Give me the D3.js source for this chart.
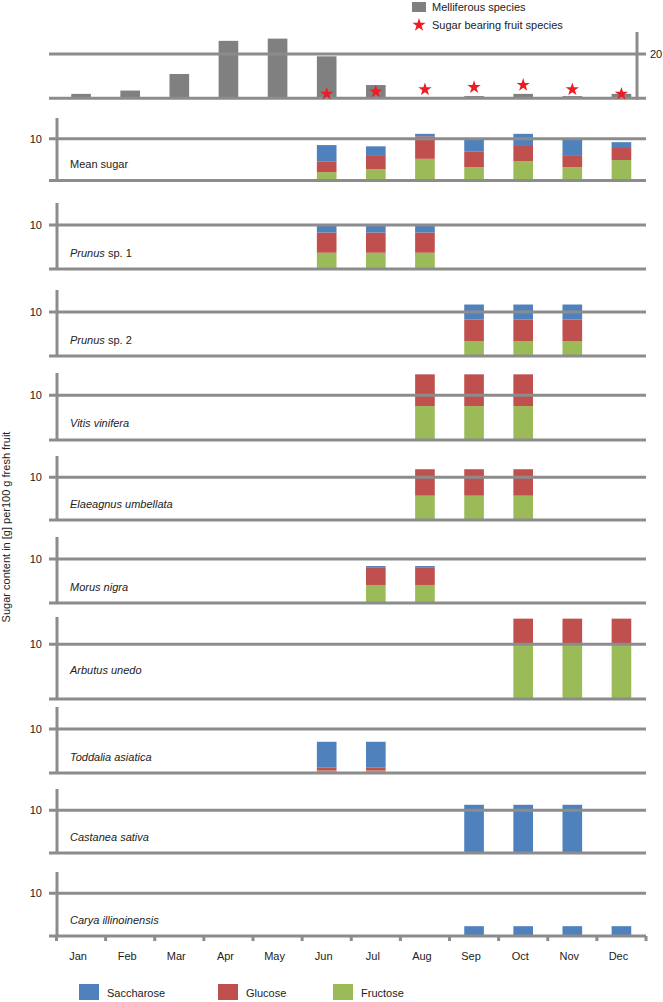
<!DOCTYPE html>
<html>
<head>
<meta charset="utf-8">
<script src="https://cdn.jsdelivr.net/npm/d3@7"></script>
<style>
  html, body { margin: 0; padding: 0; background: #fff; }
  svg { display: block; font-family: "Liberation Sans", Arial, sans-serif; }
</style>
</head>
<body>
<svg id="chart" width="663" height="1002"></svg>
<script>
// ---------- DATA ----------
const months = ["Jan","Feb","Mar","Apr","May","Jun","Jul","Aug","Sep","Oct","Nov","Dec"];
const melliferous = [2, 3.5, 11, 26, 27, 19, 6, 0, 1, 2, 1, 2];
const fruitSpeciesCount = [null, null, null, null, null, 2, 3, 4, 5, 6, 4, 2];
const topTickValue = 20;
const panelTickValue = 10;
const sugarTypes = ["Fructose", "Glucose", "Saccharose"];
const legendOrder = ["Saccharose", "Glucose", "Fructose"];
const panelNames = ["Mean sugar", "Prunus sp. 1", "Prunus sp. 2", "Vitis vinifera", "Elaeagnus umbellata",
  "Morus nigra", "Arbutus unedo", "Toddalia asiatica", "Castanea sativa", "Carya illinoinensis"];
const _ = null;
//                 Jan Feb Mar Apr May Jun   Jul   Aug   Sep   Oct   Nov   Dec
const fructose = [
  [_, _, _, _, _, 2.0, 2.7, 5.2, 3.2, 4.6, 3.2, 4.9],
  [_, _, _, _, _, 3.7, 3.7, 3.7, _, _, _, _],
  [_, _, _, _, _, _, _, _, 3.4, 3.4, 3.4, _],
  [_, _, _, _, _, _, _, 7.6, 7.6, 7.6, _, _],
  [_, _, _, _, _, _, _, 5.7, 5.7, 5.7, _, _],
  [_, _, _, _, _, _, 4.1, 4.1, _, _, _, _],
  [_, _, _, _, _, _, _, _, _, 10.1, 10.1, 10.1],
  [_, _, _, _, _, 0.55, 0.55, _, _, _, _, _],
  [_, _, _, _, _, _, _, _, 0, 0, 0, _],
  [_, _, _, _, _, _, _, _, 0, 0, 0, 0]
];
const glucose = [
  [_, _, _, _, _, 2.5, 3.2, 5.4, 3.7, 3.9, 2.7, 2.9],
  [_, _, _, _, _, 4.6, 4.6, 4.6, _, _, _, _],
  [_, _, _, _, _, _, _, _, 4.9, 4.9, 4.9, _],
  [_, _, _, _, _, _, _, 7.1, 7.1, 7.1, _, _],
  [_, _, _, _, _, _, _, 6.2, 6.2, 6.2, _, _],
  [_, _, _, _, _, _, 3.9, 3.9, _, _, _, _],
  [_, _, _, _, _, _, _, _, _, 4.6, 4.6, 4.6],
  [_, _, _, _, _, 0.65, 0.65, _, _, _, _, _],
  [_, _, _, _, _, _, _, _, 0, 0, 0, _],
  [_, _, _, _, _, _, _, _, 0, 0, 0, 0]
];
const saccharose = [
  [_, _, _, _, _, 4.0, 2.3, 0.6, 3.3, 2.7, 4.3, 1.4],
  [_, _, _, _, _, 1.7, 1.7, 1.7, _, _, _, _],
  [_, _, _, _, _, _, _, _, 3.4, 3.4, 3.4, _],
  [_, _, _, _, _, _, _, 0, 0, 0, _, _],
  [_, _, _, _, _, _, _, 0, 0, 0, _, _],
  [_, _, _, _, _, _, 0.4, 0.4, _, _, _, _],
  [_, _, _, _, _, _, _, _, _, 0, 0, 0],
  [_, _, _, _, _, 5.9, 5.9, _, _, _, _, _],
  [_, _, _, _, _, _, _, _, 11.3, 11.3, 11.3, _],
  [_, _, _, _, _, _, _, _, 2.3, 2.3, 2.3, 2.3]
];

// ---------- LAYOUT ----------
const colors = { Saccharose: "#4f81bd", Glucose: "#c0504d", Fructose: "#9bbb59" };
const lineColor = "#8c8c8c";
const lineW = 3;
const panelBox = [ // [axisTop, baseline]
  [118, 180.5], [203, 269], [290, 356], [373, 440], [456, 520],
  [537, 603], [617, 699], [707, 773], [789, 853], [872, 936]
];
const labelOffset = [16, 16, 16, 17, 16, 16, 29, 16, 16, 16];
const lineX0 = 49, lineX1 = 646, axisX = 57;

const svg = d3.select("#chart");
const x = d3.scaleBand().domain(months).range([56.5, 646]).paddingInner(0).paddingOuter(0);
const barW = x.bandwidth() * 0.4;
const cx = m => x(m) + x.bandwidth() / 2;

// ---------- TOP PANEL ----------
const yTop = d3.scaleLinear().domain([0, 30]).range([98.3, 32]);
const topG = svg.append("g");
topG.selectAll("rect.mel").data(months).join("rect")
  .attr("class", "mel")
  .attr("x", m => cx(m) - barW / 2)
  .attr("width", barW)
  .attr("y", (m, i) => yTop(melliferous[i]))
  .attr("height", (m, i) => yTop(0) - yTop(melliferous[i]))
  .attr("fill", "#808080");
[0, topTickValue].forEach(v => {
  topG.append("line").attr("x1", lineX0).attr("x2", lineX1)
    .attr("y1", yTop(v)).attr("y2", yTop(v))
    .attr("stroke", lineColor).attr("stroke-width", lineW);
});
topG.append("line").attr("x1", 637).attr("x2", 637)
  .attr("y1", yTop(30)).attr("y2", yTop(0) + 1.5)
  .attr("stroke", lineColor).attr("stroke-width", lineW);
topG.append("text").attr("x", 650).attr("y", yTop(topTickValue)).attr("dy", "0.35em")
  .attr("font-size", 11).attr("fill", "#222").text(topTickValue);
const star = d3.symbol().type(d3.symbolStar).size(55);
topG.selectAll("path.star").data(months.map((m, i) => ({ m, v: fruitSpeciesCount[i] })).filter(d => d.v != null))
  .join("path").attr("class", "star")
  .attr("d", star)
  .attr("transform", d => `translate(${cx(d.m)},${yTop(d.v)})`)
  .attr("fill", "#ed1c24");

// top legend
const tl = svg.append("g");
tl.append("rect").attr("x", 412).attr("y", 2).attr("width", 14).attr("height", 10).attr("fill", "#808080");
tl.append("text").attr("x", 432).attr("y", 7.5).attr("dy", "0.35em").attr("font-size", 11).attr("fill", "#222").text("Melliferous species");
tl.append("path").attr("d", star).attr("transform", "translate(419,25)").attr("fill", "#ed1c24");
tl.append("text").attr("x", 432).attr("y", 25).attr("dy", "0.35em").attr("font-size", 11).attr("fill", "#222").text("Sugar bearing fruit species");

// ---------- SPECIES PANELS ----------
panelNames.forEach((name, p) => {
  const [t, b] = panelBox[p];
  const y = d3.scaleLinear().domain([0, 15]).range([b, t]);
  const g = svg.append("g");
  const rows = months.map((m, i) => ({
    month: m, Fructose: fructose[p][i], Glucose: glucose[p][i], Saccharose: saccharose[p][i]
  })).filter(d => d.Fructose != null);
  const stacked = d3.stack().keys(sugarTypes).value((d, k) => d[k] || 0)(rows);
  g.selectAll("g.layer").data(stacked).join("g").attr("class", "layer")
    .attr("fill", d => colors[d.key])
    .selectAll("rect").data(d => d).join("rect")
    .attr("x", d => cx(d.data.month) - barW / 2)
    .attr("width", barW)
    .attr("y", d => y(d[1]))
    .attr("height", d => Math.max(0, y(d[0]) - y(d[1])));
  // grid / baseline
  [0, panelTickValue].forEach(v => {
    g.append("line").attr("x1", lineX0).attr("x2", lineX1)
      .attr("y1", y(v)).attr("y2", y(v))
      .attr("stroke", lineColor).attr("stroke-width", lineW);
  });
  g.append("line").attr("x1", axisX).attr("x2", axisX)
    .attr("y1", t).attr("y2", b)
    .attr("stroke", lineColor).attr("stroke-width", lineW);
  g.append("text").attr("x", 42).attr("y", y(panelTickValue)).attr("dy", "0.35em")
    .attr("text-anchor", "end").attr("font-size", 11).attr("fill", "#222").text(panelTickValue);
  const lab = g.append("text").attr("x", 70).attr("y", b - labelOffset[p]).attr("dy", "0.35em")
    .attr("font-size", 11).attr("fill", "#222");
  const m = name.match(/^(\S+)( sp\. \d)$/);
  if (name === "Mean sugar") {
    lab.text(name);
  } else if (m) {
    lab.append("tspan").attr("font-style", "italic").text(m[1]);
    lab.append("tspan").text(m[2]);
  } else {
    lab.attr("font-style", "italic").text(name);
  }
});

// ---------- X AXIS ----------
const lastBase = panelBox[panelBox.length - 1][1];
const ticks = months.map(m => x(m)).concat([x(months[11]) + x.bandwidth()]);
svg.append("g").selectAll("line").data(ticks).join("line")
  .attr("x1", d => d).attr("x2", d => d)
  .attr("y1", lastBase).attr("y2", lastBase + 5)
  .attr("stroke", lineColor).attr("stroke-width", lineW);
svg.append("g").selectAll("text").data(months).join("text")
  .attr("x", d => cx(d) - 3).attr("y", 956).attr("dy", "0.35em")
  .attr("text-anchor", "middle").attr("font-size", 11).attr("fill", "#222")
  .text(d => d);

// y title
svg.append("text").attr("transform", "translate(10,527) rotate(-90)")
  .attr("text-anchor", "middle").attr("font-size", 11).attr("fill", "#222")
  .text("Sugar content in [g] per100 g fresh fruit");

// bottom legend
const legX = [79, 218, 333];
const bl = svg.append("g");
legendOrder.forEach((k, i) => {
  bl.append("rect").attr("x", legX[i]).attr("y", 984).attr("width", 20).attr("height", 16).attr("fill", colors[k]);
  bl.append("text").attr("x", legX[i] + 28).attr("y", 993).attr("dy", "0.35em")
    .attr("font-size", 11).attr("fill", "#222").text(k);
});
</script>
</body>
</html>
